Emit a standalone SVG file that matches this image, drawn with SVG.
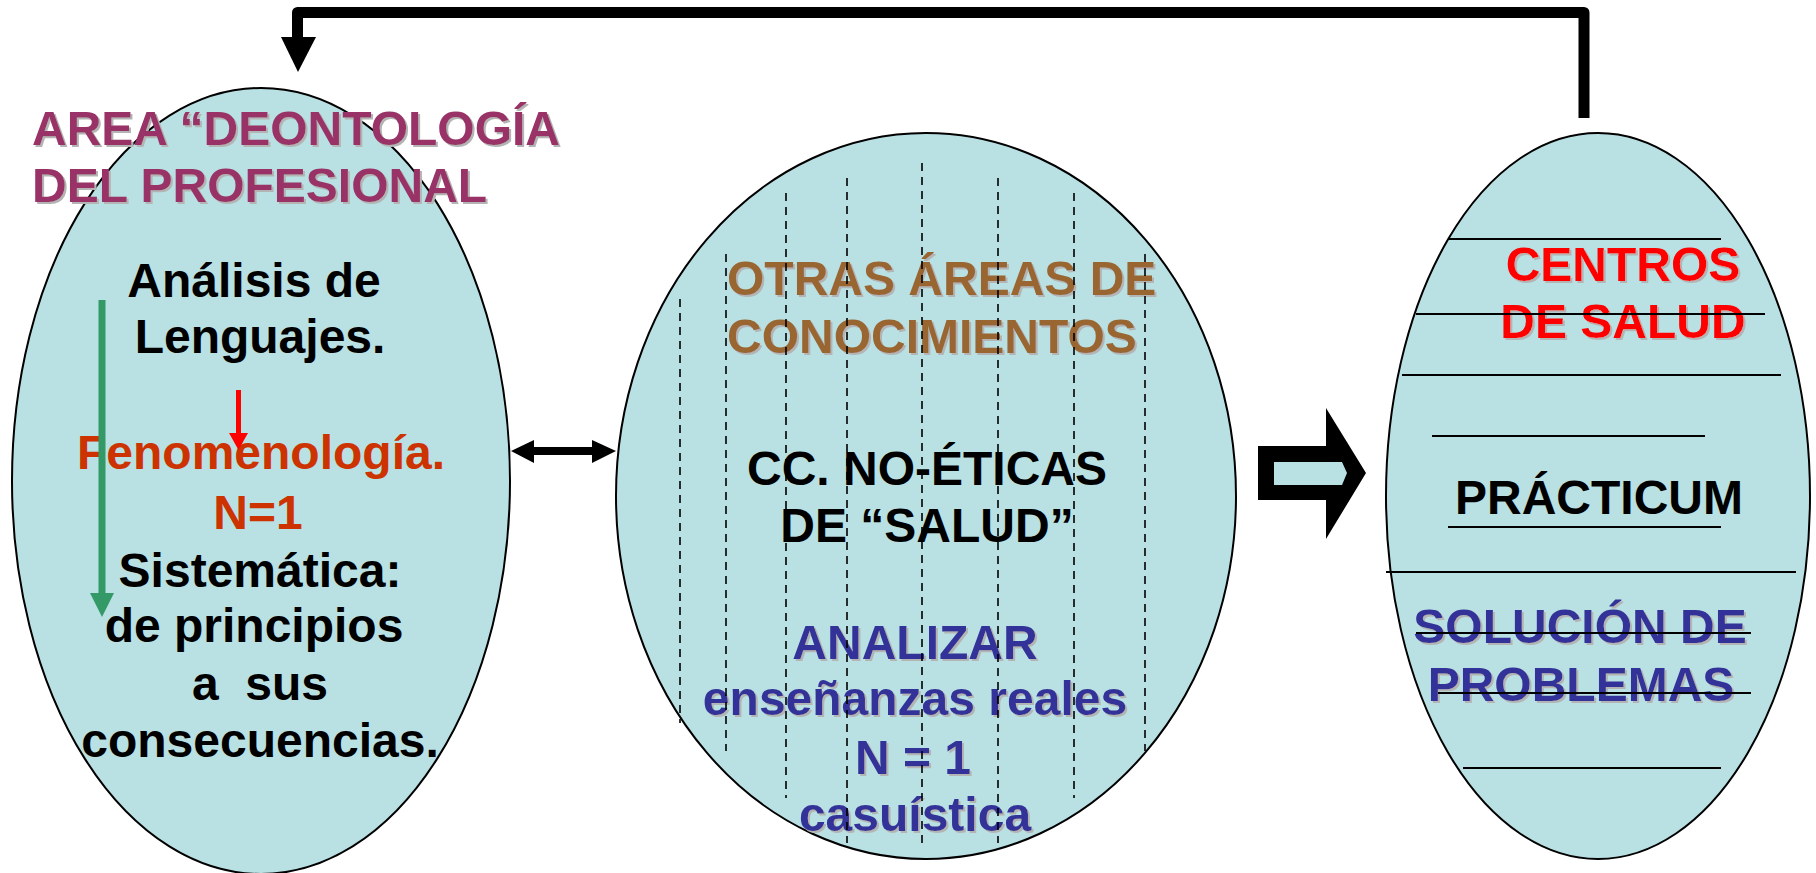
<svg xmlns="http://www.w3.org/2000/svg" width="1816" height="873" viewBox="0 0 1816 873">
<style>
.ell{fill:#b9e0e3;stroke:#000;stroke-width:2}
text{font-family:"Liberation Sans",Arial,sans-serif;font-weight:bold;font-size:48px}
.c{text-anchor:middle}
.sh{filter:url(#shadow)}
.dash{stroke:#000;stroke-width:1.6;stroke-dasharray:8 6;fill:none}
.hl{stroke:#000;stroke-width:2}
</style>
<defs>
<filter id="shadow" x="-5%" y="-20%" width="110%" height="140%">
<feDropShadow dx="2" dy="2" stdDeviation="0.4" flood-color="#b4b4b4" flood-opacity="1"/>
</filter>
</defs>
<rect width="1816" height="873" fill="#fff"/>
<g id="node-deontologia">
<ellipse class="ell" cx="261" cy="481" rx="249" ry="393"/>
<text class="sh" x="32" y="145" fill="#993366">AREA “DEONTOLOGÍA</text>
<text class="sh" x="32" y="202" fill="#993366">DEL PROFESIONAL</text>
<text class="c" x="254" y="297" fill="#000">Análisis de</text>
<text class="c" x="260" y="353" fill="#000">Lenguajes.</text>
<text class="c" x="261" y="469" fill="#cc3300">Fenomenología.</text>
<text class="c" x="258" y="529" fill="#cc3300">N=1</text>
<text class="c" x="260" y="587" fill="#000">Sistemática:</text>
<text class="c" x="254" y="642" fill="#000">de principios</text>
<text class="c" x="260" y="700" fill="#000" xml:space="preserve">a  sus</text>
<text class="c" x="260" y="757" fill="#000">consecuencias.</text>
</g>
<g id="node-otras-areas">
<ellipse class="ell" cx="926" cy="496" rx="310" ry="363"/>
<text class="sh" x="727" y="295" fill="#996633">OTRAS ÁREAS DE</text>
<text class="sh" x="727" y="353" fill="#996633">CONOCIMIENTOS</text>
<text class="c" x="927" y="485" fill="#000">CC. NO-ÉTICAS</text>
<text class="c" x="927" y="542" fill="#000">DE “SALUD”</text>
<text class="c sh" x="915" y="659" fill="#333399">ANALIZAR</text>
<text class="c sh" x="915" y="715" fill="#333399">enseñanzas reales</text>
<text class="c sh" x="913" y="774" fill="#333399">N = 1</text>
<text class="c sh" x="915" y="831" fill="#333399">casuística</text>
<line class="dash" x1="680" y1="299" x2="680" y2="723"/>
<line class="dash" x1="726" y1="254" x2="726" y2="751"/>
<line class="dash" x1="786" y1="193" x2="786" y2="798"/>
<line class="dash" x1="847" y1="178" x2="847" y2="843"/>
<line class="dash" x1="922" y1="163" x2="922" y2="843"/>
<line class="dash" x1="998" y1="178" x2="998" y2="843"/>
<line class="dash" x1="1074" y1="193" x2="1074" y2="798"/>
<line class="dash" x1="1145" y1="254" x2="1145" y2="751"/>
</g>
<g id="node-practicum">
<ellipse class="ell" cx="1598" cy="496" rx="212" ry="363"/>
<text class="c sh" x="1623" y="281" fill="#ff0000">CENTROS</text>
<text class="c sh" x="1623" y="338" fill="#ff0000">DE SALUD</text>
<text class="c" x="1599" y="514" fill="#000">PRÁCTICUM</text>
<text class="c sh" x="1580" y="643" fill="#333399">SOLUCIÓN DE</text>
<text class="c sh" x="1581" y="701" fill="#333399">PROBLEMAS</text>
<line class="hl" x1="1448" y1="239" x2="1721" y2="239"/>
<line class="hl" x1="1416" y1="314" x2="1765" y2="314"/>
<line class="hl" x1="1402" y1="375" x2="1781" y2="375"/>
<line class="hl" x1="1432" y1="436" x2="1705" y2="436"/>
<line class="hl" x1="1448" y1="527" x2="1721" y2="527"/>
<line class="hl" x1="1386" y1="572" x2="1796" y2="572"/>
<line class="hl" x1="1416" y1="633" x2="1751" y2="633"/>
<line class="hl" x1="1438" y1="693" x2="1751" y2="693"/>
<line class="hl" x1="1463" y1="768" x2="1721" y2="768"/>
</g>
<g id="connectors">
<path d="M1584 118 V12.5 H297.5 V38" fill="none" stroke="#000" stroke-width="11" stroke-linejoin="round"/>
<polygon points="281,37 316,37 298,72" fill="#000"/>
<line x1="533" y1="451" x2="593" y2="451" stroke="#000" stroke-width="8"/>
<polygon points="511,451 534,440 534,463" fill="#000"/>
<polygon points="616,451 592,440 592,463" fill="#000"/>
<polygon points="1258,446 1326,446 1326,408 1366,473 1326,539 1326,500 1258,500" fill="#000"/>
<polygon points="1274,462 1342,462 1347,473 1342,485 1274,485" fill="#b9e0e3"/>
<line x1="102" y1="300" x2="102" y2="595" stroke="#339966" stroke-width="7"/>
<polygon points="90,593 114,593 102,617" fill="#339966"/>
<line x1="238.5" y1="390" x2="238.5" y2="435" stroke="#ff0000" stroke-width="5"/>
<polygon points="229,433 248,433 238.5,450" fill="#ff0000"/>
</g>
</svg>
